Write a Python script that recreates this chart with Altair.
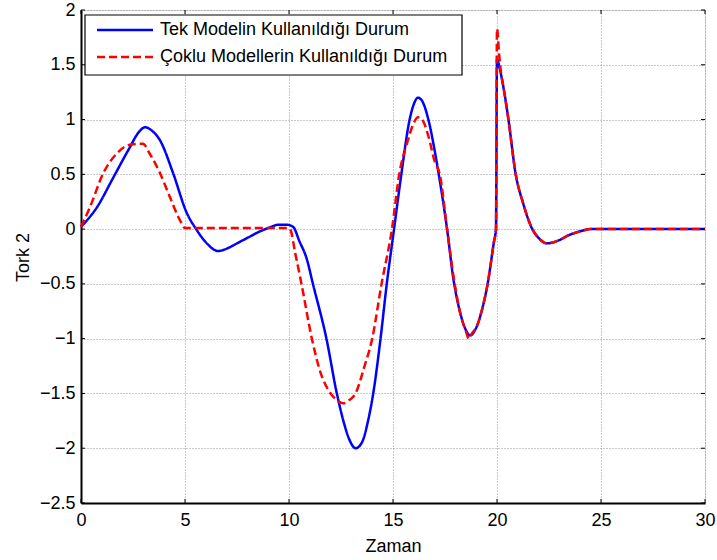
import altair as alt
import pandas as pd

series_names = ["Tek Modelin Kullanıldığı Durum", "Çoklu Modellerin Kullanıldığı Durum"]
series_colors = ["#0000FF", "#FF0000"]

tek_t = [0, 0.77, 1.55, 2.3, 2.8, 3.08, 3.4, 3.8, 4.43, 5.08, 5.57, 6.0, 6.6,
         7.1, 7.5, 8.0, 8.5, 9.0, 9.5, 9.9, 10.2, 10.5, 10.85, 11.15, 11.8, 12.3,
         12.6, 12.9, 13.2, 13.5, 13.8, 14.05, 14.4, 14.7, 15.05, 15.4, 15.8, 16.0, 16.2,
         16.4, 16.7, 17.0, 17.2, 17.6, 17.9, 18.2, 18.5, 18.7, 19.0, 19.3, 19.55, 19.85,
         19.95, 20.0, 20.15, 20.35, 20.55, 20.9, 21.25, 21.7, 22.0, 22.4, 23.0, 23.4, 24.0,
         24.5, 30]
tek_v = [0.02, 0.2, 0.47, 0.73, 0.89, 0.93, 0.9, 0.81, 0.51, 0.15, -0.01, -0.12, -0.2,
         -0.17, -0.13, -0.08, -0.03, 0.01, 0.04, 0.04, 0.02, -0.11, -0.27, -0.5, -1.0, -1.5,
         -1.74, -1.92, -2.0, -1.95, -1.75, -1.5, -1.0, -0.5, 0.0, 0.5, 1.0, 1.14, 1.2, 1.17,
         1.0, 0.72, 0.5, 0.0, -0.45, -0.74, -0.92, -0.97, -0.9, -0.72, -0.5, -0.12, 0.0,
         1.55, 1.45, 1.25, 1.0, 0.5, 0.24, 0.0, -0.08, -0.13, -0.1, -0.06, -0.02, 0.0, 0.0]

coklu_t = [0, 0.43, 1.07, 1.72, 2.35, 2.98, 3.3, 3.8, 4.28, 4.76, 5.0,
           5.2, 9.9, 10.05, 10.3, 10.6, 11.1, 11.5, 12.0, 12.3, 12.6, 12.9,
           13.2, 13.6, 14.0, 14.45, 14.95, 15.3, 15.7, 16.0, 16.2, 16.4, 16.7, 17.0,
           17.25, 17.6, 17.9, 18.2, 18.5, 18.65, 18.8, 19.0, 19.3, 19.55, 19.85, 19.95, 20.0,
           20.1, 20.15, 20.35, 20.55, 20.9, 21.25, 21.7, 22.0, 22.4, 23.0, 23.4, 24.0, 24.5, 30]
coklu_v = [0.02, 0.2, 0.51, 0.69, 0.77, 0.78, 0.69, 0.51, 0.29, 0.08, 0.01,
           0.01, 0.01, 0.0, -0.22, -0.5, -1.0, -1.3, -1.5, -1.56, -1.59, -1.56,
           -1.5, -1.27, -1.0, -0.5, 0.0, 0.5, 0.8, 0.97, 1.02, 1.0, 0.85, 0.62,
           0.5, 0.0, -0.42, -0.74, -0.93, -1.0, -0.95, -0.9, -0.72, -0.5, -0.12, 0.0, 1.83,
           1.6, 1.5, 1.25, 1.0, 0.5, 0.24, 0.0, -0.08, -0.13, -0.1, -0.06, -0.02, 0.0, 0.0]

x_ticks = [0, 5, 10, 15, 20, 25, 30]
y_ticks = [-2.5, -2, -1.5, -1, -0.5, 0, 0.5, 1, 1.5, 2]

W, H = 624, 493
FONT = "Liberation Sans"
FS = 18

rows = []
for t, v in zip(tek_t, tek_v):
    rows.append({"t": t, "v": v, "seri": series_names[0], "o": 0})
for t, v in zip(coklu_t, coklu_v):
    rows.append({"t": t, "v": v, "seri": series_names[1], "o": 1})
df = pd.DataFrame(rows)

xscale = alt.Scale(domain=[0, 30], nice=False, zero=False)
yscale = alt.Scale(domain=[-2.5, 2], nice=False, zero=False)

xaxis = alt.Axis(values=x_ticks, title="Zaman", grid=True, gridDash=[1, 2], gridColor="#777777",
                 gridWidth=0.8, tickSize=0, labelPadding=8, labelFontSize=FS, labelFont=FONT,
                 labelColor="black", domainColor="black", domainWidth=2,
                 titleFont=FONT, titleFontSize=FS, titleFontWeight="normal", titleColor="black",
                 titleY=43, titleBaseline="middle", labelFlush=False)
yaxis = alt.Axis(values=y_ticks, title="Tork 2", grid=True, gridDash=[1, 2], gridColor="#777777",
                 gridWidth=0.8, tickSize=0, labelPadding=6, labelFontSize=FS, labelFont=FONT,
                 labelColor="black", domainColor="black", domainWidth=2,
                 titleFont=FONT, titleFontSize=FS, titleFontWeight="normal", titleColor="black",
                 titleX=-58, titleY=247, titleAngle=270, titleBaseline="middle", titleAlign="center",
                 labelFlush=False, format="~g")

lines = alt.Chart(df).mark_line(strokeWidth=2.5, interpolate="monotone").encode(
    x=alt.X("t:Q", scale=xscale, axis=xaxis),
    y=alt.Y("v:Q", scale=yscale, axis=yaxis),
    color=alt.Color("seri:N", scale=alt.Scale(domain=series_names, range=series_colors), legend=None),
    strokeDash=alt.StrokeDash("seri:N", scale=alt.Scale(domain=series_names, range=[[1, 0], [8, 4]]), legend=None),
    order=alt.Order("o:Q"),
)

tick_x_df = pd.DataFrame({"t": x_ticks})
tick_y_df = pd.DataFrame({"v": y_ticks})
tk = dict(color="black", strokeWidth=1)
ticks = [
    alt.Chart(tick_x_df).mark_rule(**tk).encode(x=alt.X("t:Q", scale=xscale), y=alt.value(H), y2=alt.value(H - 4)),
    alt.Chart(tick_x_df).mark_rule(**tk).encode(x=alt.X("t:Q", scale=xscale), y=alt.value(0), y2=alt.value(4)),
    alt.Chart(tick_y_df).mark_rule(**tk).encode(y=alt.Y("v:Q", scale=yscale), x=alt.value(0), x2=alt.value(4)),
    alt.Chart(tick_y_df).mark_rule(**tk).encode(y=alt.Y("v:Q", scale=yscale), x=alt.value(W), x2=alt.value(W - 4)),
]

leg_df = pd.DataFrame({"seri": series_names})
legend_box = alt.Chart(leg_df.head(1)).mark_rect(fill="white", stroke="black", strokeWidth=1.2).encode(
    x=alt.value(4), x2=alt.value(381), y=alt.value(5), y2=alt.value(65))
legend_layers = [legend_box]
for i, (name, col) in enumerate(zip(series_names, series_colors)):
    yy = 20 + 27 * i
    one = pd.DataFrame({"seri": [name]})
    legend_layers.append(
        alt.Chart(one).mark_rule(color=col, strokeWidth=2.5, strokeDash=[1, 0] if i == 0 else [8, 4]).encode(
            x=alt.value(16), x2=alt.value(72), y=alt.value(yy)))
    legend_layers.append(
        alt.Chart(one).mark_text(align="left", baseline="middle", font=FONT, fontSize=FS, color="black").encode(
            x=alt.value(79), y=alt.value(yy), text="seri:N"))

chart = alt.layer(lines, *ticks, *legend_layers).properties(
    width=W, height=H,
    autosize=alt.AutoSizeParams(type="none"),
    padding={"left": 81, "top": 10, "right": 12, "bottom": 57},
).configure_view(stroke="black", strokeWidth=1).configure(background="white")

chart.save("out.html", embed_options={"renderer": "svg", "actions": False})
